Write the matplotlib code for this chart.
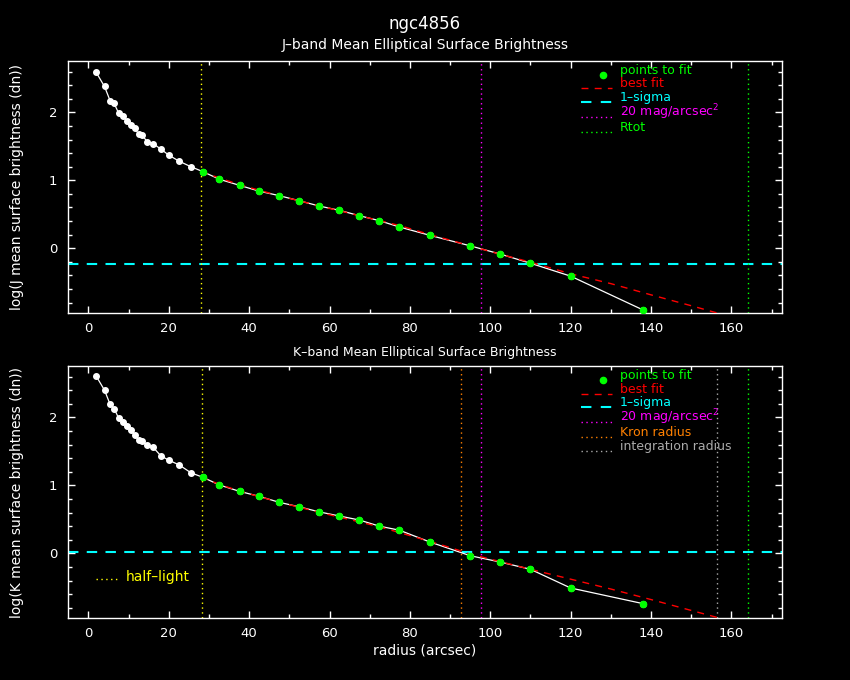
import matplotlib
matplotlib.use('Agg')
import matplotlib.pyplot as plt
from matplotlib.ticker import MultipleLocator

# radii of the elliptical apertures (arcsec), same for both bands
radius = [1.9, 4.0, 5.4, 6.4, 7.5, 8.5, 9.6, 10.5, 11.5, 12.5, 13.4, 14.6, 16.1,
          18.0, 20.0, 22.6, 25.5, 28.5, 32.6, 37.6, 42.5, 47.5, 52.4, 57.4,
          62.4, 67.4, 72.4, 77.4, 85.0, 95.0, 102.3, 110.0, 120.0, 138.0]

# log mean surface brightness (dn)
mu_j = [2.59, 2.38, 2.17, 2.13, 1.99, 1.94, 1.87, 1.82, 1.765, 1.68, 1.66, 1.57,
        1.54, 1.46, 1.37, 1.28, 1.20, 1.127, 1.015, 0.926, 0.84, 0.774, 0.70,
        0.622, 0.559, 0.48, 0.406, 0.313, 0.19, 0.036, -0.082, -0.22, -0.41, -0.907]
mu_k = [2.61, 2.40, 2.19, 2.13, 1.99, 1.935, 1.87, 1.81, 1.74, 1.67, 1.65, 1.59,
        1.56, 1.435, 1.37, 1.30, 1.185, 1.118, 1.005, 0.912, 0.838, 0.75, 0.685,
        0.61, 0.55, 0.49, 0.40, 0.34, 0.166, -0.035, -0.126, -0.235, -0.51, -0.74]

fit_start = 28.0  # points beyond this radius are used in the fit

# best fit curves
fit_r = [28, 33, 38, 43, 48, 53, 58, 63, 68, 73, 78, 85, 90, 95, 102, 110,
         120, 130, 140, 150, 160]
fit_j = [1.13, 1.025, 0.93, 0.845, 0.765, 0.69, 0.615, 0.545, 0.47, 0.40, 0.325,
         0.20, 0.12, 0.035, -0.08, -0.205, -0.375, -0.52, -0.685, -0.845, -1.01]
fit_k = [1.12, 1.005, 0.91, 0.825, 0.745, 0.67, 0.595, 0.525, 0.455, 0.38, 0.295,
         0.175, 0.085, -0.01, -0.115, -0.235, -0.38, -0.525, -0.68, -0.84, -1.0]

sigma_j = -0.235
sigma_k = 0.015

half_light_j = 28.1
half_light_k = 28.2
mag20_j = 97.8
mag20_k = 97.8
kron_k = 92.8
integ_k = 156.3
rtot = 164.2

GREEN = '#00ff00'
RED = '#ff0000'
CYAN = '#00ffff'
MAGENTA = '#ff00ff'
ORANGE = '#ff8000'
GRAY = '#aaaaaa'
YELLOW = '#ffff00'

DOT = (0, (1, 2.5))
DASH = (0, (5, 4.5))


def style_axes(ax):
    ax.set_facecolor('black')
    for sp in ax.spines.values():
        sp.set_color('white')
        sp.set_linewidth(1.0)
    ax.set_xlim(-5, 172.5)
    ax.set_ylim(-0.956, 2.755)
    ax.xaxis.set_major_locator(MultipleLocator(20))
    ax.xaxis.set_minor_locator(MultipleLocator(10))
    ax.yaxis.set_major_locator(MultipleLocator(1))
    ax.yaxis.set_minor_locator(MultipleLocator(0.2))
    ax.tick_params(which='both', direction='in', colors='white', top=True, right=True,
                   labelsize=9.5, width=1)
    ax.tick_params(which='major', length=5)
    ax.tick_params(which='minor', length=2.6)
    ax.tick_params(axis='x', pad=6)
    ax.tick_params(axis='y', pad=8)


def draw_profile(ax, mu, fit, sigma):
    ax.plot(radius, mu, color='white', lw=0.9, marker='o', ms=4, zorder=3)
    r_fit = [r for r in radius if r >= fit_start]
    m_fit = [m for r, m in zip(radius, mu) if r >= fit_start]
    ax.plot(fit_r, fit, color=RED, lw=1.0, linestyle=DASH, zorder=4)
    ax.plot(r_fit, m_fit, linestyle='none', marker='o', ms=4.5, color=GREEN, zorder=5)
    ax.axhline(sigma, color=CYAN, lw=1.5, linestyle=(0, (5, 4)), zorder=2)


def legend_rows(ax, entries, rows):
    # PGPLOT style legend: sample slightly below text
    for (label, color, kind), y in zip(entries, rows):
        ax.text(0.773, y, label, color=color, fontsize=9, va='center', ha='left',
                transform=ax.transAxes)
        ys = y - 0.018
        if kind == 'point':
            ax.plot([0.75], [ys], marker='o', ms=4.5, color=color, transform=ax.transAxes,
                    clip_on=False)
        else:
            ls = DASH if kind == 'dash' else DOT
            lw = 1.5 if color == CYAN else 1.0
            ax.plot([0.718, 0.762], [ys, ys], color=color, lw=lw, linestyle=ls,
                    transform=ax.transAxes, clip_on=False)


fig = plt.figure(figsize=(8.5, 6.8), dpi=100, facecolor='black')
ax1 = fig.add_axes([0.0804, 0.5393, 0.8392, 0.371])
ax2 = fig.add_axes([0.0804, 0.0907, 0.8392, 0.371])

fig.text(0.5, 0.965, 'ngc4856', color='white', fontsize=12, ha='center', va='center')

legend_y = [0.962, 0.909, 0.856, 0.796, 0.736, 0.682]

# J band
style_axes(ax1)
draw_profile(ax1, mu_j, fit_j, sigma_j)
ax1.axvline(half_light_j, color=YELLOW, lw=1, linestyle=DOT)
ax1.axvline(mag20_j, color=MAGENTA, lw=1, linestyle=DOT)
ax1.axvline(rtot, color=GREEN, lw=1, linestyle=DOT)
ax1.text(0.5, 1.063, 'J\u2013band Mean Elliptical Surface Brightness', color='white',
         fontsize=10, ha='center', va='center', transform=ax1.transAxes)
ax1.set_ylabel('log(J mean surface brightness (dn))', color='white', fontsize=10)
ax1.yaxis.set_label_coords(-0.062, 0.5)
legend_rows(ax1, [('points to fit', GREEN, 'point'),
                  ('best fit', RED, 'dash'),
                  ('1\u2013sigma', CYAN, 'dash'),
                  ('20 mag/arcsec$^{2}$', MAGENTA, 'dot'),
                  ('Rtot', GREEN, 'dot')],
            legend_y)

# K band
style_axes(ax2)
draw_profile(ax2, mu_k, fit_k, sigma_k)
ax2.axvline(half_light_k, color=YELLOW, lw=1, linestyle=DOT)
ax2.axvline(kron_k, color=ORANGE, lw=1, linestyle=DOT)
ax2.axvline(mag20_k, color=MAGENTA, lw=1, linestyle=DOT)
ax2.axvline(integ_k, color=GRAY, lw=1, linestyle=DOT)
ax2.axvline(rtot, color=GREEN, lw=1, linestyle=DOT)
ax2.text(0.5, 1.052, 'K\u2013band Mean Elliptical Surface Brightness', color='white',
         fontsize=9, ha='center', va='center', transform=ax2.transAxes)
ax2.set_ylabel('log(K mean surface brightness (dn))', color='white', fontsize=10)
ax2.yaxis.set_label_coords(-0.062, 0.5)
ax2.set_xlabel('radius (arcsec)', color='white', fontsize=10)
ax2.xaxis.set_label_coords(0.5, -0.1)
legend_rows(ax2, [('points to fit', GREEN, 'point'),
                  ('best fit', RED, 'dash'),
                  ('1\u2013sigma', CYAN, 'dash'),
                  ('20 mag/arcsec$^{2}$', MAGENTA, 'dot'),
                  ('Kron radius', ORANGE, 'dot'),
                  ('integration radius', GRAY, 'dot')],
            legend_y)
ax2.plot([0.039, 0.068], [0.156, 0.156], color=YELLOW, lw=1, linestyle=DOT,
         transform=ax2.transAxes)
ax2.text(0.080, 0.163, 'half\u2013light', color=YELLOW, fontsize=10, va='center',
         ha='left', transform=ax2.transAxes)

fig.savefig('out.png', dpi=100, facecolor='black')
